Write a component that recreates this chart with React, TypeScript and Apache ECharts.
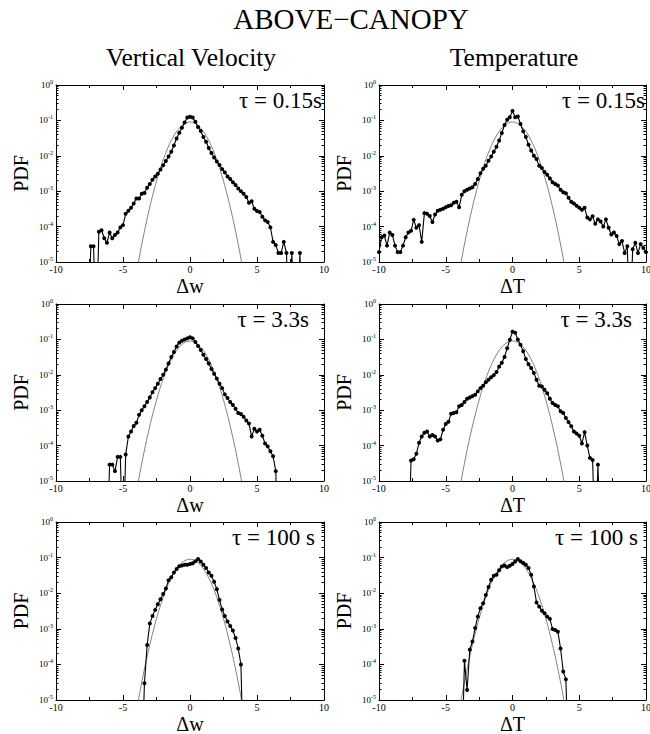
import { useEffect, useRef } from 'react';
import * as echarts from 'echarts';

const FONT = '"Liberation Serif", "DejaVu Serif", serif';

// ---- Gaussian reference curve (gray) ----
const gaussX = [-4, -3.75, -3.5, -3.25, -3, -2.75, -2.5, -2.25, -2, -1.75, -1.5, -1.25, -1, -0.75, -0.5, -0.25, 0,
  0.25, 0.5, 0.75, 1, 1.25, 1.5, 1.75, 2, 2.25, 2.5, 2.75, 3, 3.25, 3.5, 3.75, 4];
const gaussY = [4.8e-6, 1.59e-5, 4.85e-5, 1.37e-4, 3.57e-4, 8.6e-4, 1.93e-3, 4.0e-3, 7.7e-3, 1.37e-2, 2.26e-2, 3.44e-2, 4.87e-2, 6.37e-2, 7.7e-2, 8.65e-2, 9.0e-2,
  8.65e-2, 7.7e-2, 6.37e-2, 4.87e-2, 3.44e-2, 2.26e-2, 1.37e-2, 7.7e-3, 4.0e-3, 1.93e-3, 8.6e-4, 3.57e-4, 1.37e-4, 4.85e-5, 1.59e-5, 4.8e-6];

// ---- Vertical velocity, tau = 0.15 s ----
const dwShortX = [-7.6, -7.4, -7.2, -7.0, -6.8, -6.6, -6.4, -6.2, -6.0, -5.8, -5.6, -5.4, -5.2, -5.0, -4.8, -4.6, -4.4, -4.2, -4.0, -3.8,
  -3.6, -3.4, -3.2, -3.0, -2.8, -2.6, -2.4, -2.2, -2.0, -1.8, -1.6, -1.4, -1.2, -1.0, -0.8, -0.6, -0.4, -0.2, 0,
  0.2, 0.4, 0.6, 0.8, 1.0, 1.2, 1.4, 1.6, 1.8, 2.0, 2.2, 2.4, 2.6, 2.8, 3.0, 3.2, 3.4, 3.6, 3.8, 4.0,
  4.2, 4.4, 4.6, 4.8, 5.0, 5.2, 5.4, 5.6, 5.8, 6.0, 6.2, 6.4, 6.6, 6.8, 7.0, 7.2, 7.4, 7.6, 7.8, 8.0, 8.2, 8.4];
const dwShortY = [1e-7, 2.8e-5, 2.8e-5, 1e-7, 7.2e-5, 7.9e-5, 4.7e-5, 3.5e-5, 6.8e-5, 4.7e-5, 5.8e-5, 6.8e-5, 9.5e-5, 1.1e-4, 2.3e-4, 2.8e-4, 3.4e-4, 4.5e-4, 6.2e-4, 6.2e-4,
  8.5e-4, 8.9e-4, 1.26e-3, 1.6e-3, 2.1e-3, 2.6e-3, 3.1e-3, 4.1e-3, 5.4e-3, 7.1e-3, 9.5e-3, 1.3e-2, 1.95e-2, 3.1e-2, 4.5e-2, 6.2e-2, 8.7e-2, 0.12, 0.126,
  0.12, 0.091, 0.065, 0.05, 0.034, 0.025, 0.0166, 0.012, 0.0089, 0.0069, 0.0055, 0.0042, 0.0034, 0.0026, 0.0022, 0.0018, 0.0015, 0.0012, 0.001, 8.5e-4,
  6.9e-4, 4.7e-4, 5.2e-4, 3.2e-4, 2.75e-4, 2.6e-4, 1.9e-4, 1.5e-4, 1.35e-4, 9.5e-5, 3.7e-5, 3.0e-5, 1.8e-5, 1.8e-5, 3.7e-5, 1.8e-5, 1e-7, 1.8e-5, 1e-7, 1e-7, 1.8e-5, 1e-7];

// ---- Temperature, tau = 0.15 s ----
const dtShortX = [-10, -9.8, -9.6, -9.4, -9.2, -9, -8.8, -8.6, -8.4, -8.2, -8, -7.8, -7.6, -7.4, -7.2, -7, -6.8, -6.6, -6.4, -6.2,
  -6, -5.8, -5.6, -5.4, -5.2, -5, -4.8, -4.6, -4.4, -4.2, -4, -3.8, -3.6, -3.4, -3.2, -3, -2.8, -2.6, -2.4, -2.2,
  -2, -1.8, -1.6, -1.4, -1.2, -1, -0.8, -0.6, -0.4, -0.2, 0,
  0.2, 0.4, 0.6, 0.8, 1, 1.2, 1.4, 1.6, 1.8, 2, 2.2, 2.4, 2.6, 2.8, 3, 3.2, 3.4, 3.6, 3.8, 4,
  4.2, 4.4, 4.6, 4.8, 5, 5.2, 5.4, 5.6, 5.8, 6, 6.2, 6.4, 6.6, 6.8, 7, 7.2, 7.4, 7.6, 7.8, 8,
  8.2, 8.4, 8.6, 8.8, 9, 9.2, 9.4, 9.6, 9.8, 10];
const dtShortY = [1.9e-5, 5.0e-5, 5.6e-5, 2.9e-5, 6.8e-5, 5.8e-5, 2.9e-5, 1.9e-5, 1.9e-5, 2.9e-5,
  5.0e-5, 6.8e-5, 7.6e-5, 1.55e-4, 9.3e-5, 1.1e-4, 3.7e-5, 2.4e-4, 2.3e-4, 2.0e-4,
  1.35e-4, 2.2e-4, 2.8e-4, 3.0e-4, 3.2e-4, 3.5e-4, 3.8e-4, 4.0e-4, 4.7e-4, 5.0e-4,
  3.5e-4, 7.9e-4, 1.0e-3, 1.1e-3, 1.2e-3, 1.3e-3, 1.6e-3, 2.2e-3, 3.2e-3, 4.3e-3,
  5.2e-3, 7.2e-3, 9.5e-3, 1.3e-2, 1.8e-2, 2.7e-2, 4.4e-2, 7.4e-2, 0.105, 0.123, 0.186,
  0.123, 0.129, 0.079, 0.049, 0.034, 0.0204, 0.0141, 0.01, 0.0081, 0.0052,
  0.0045, 0.0035, 0.0029, 0.0023, 0.0018, 0.0016, 0.00145, 0.0011, 9.3e-4, 8.7e-4,
  6.5e-4, 5.0e-4, 4.5e-4, 3.9e-4, 3.4e-4, 3.0e-4, 3.4e-4, 1.8e-4, 1.6e-4, 1.95e-4,
  1.2e-4, 1.6e-4, 1.4e-4, 1.0e-4, 1.6e-4, 9.3e-5, 6.0e-5, 6.8e-5, 5.4e-5, 3.2e-5,
  3.9e-5, 1.8e-5, 2.8e-5, 1e-7, 2.3e-5, 3.5e-5, 1.8e-5, 3.2e-5, 2.5e-5, 1.9e-5];

// ---- Vertical velocity, tau = 3.3 s ----
const dwMidX = [-6.2, -6.0, -5.8, -5.6, -5.4, -5.2, -5.0, -4.8, -4.6, -4.4, -4.2, -4.0,
  -3.8, -3.6, -3.4, -3.2, -3.0, -2.8, -2.6, -2.4, -2.2, -2.0, -1.8, -1.6, -1.4, -1.2, -1.0, -0.8, -0.6, -0.4, -0.2, 0,
  0.2, 0.4, 0.6, 0.8, 1.0, 1.2, 1.4, 1.6, 1.8, 2.0, 2.2, 2.4, 2.6, 2.8, 3.0, 3.2, 3.4, 3.6, 3.8, 4.0,
  4.2, 4.4, 4.6, 4.8, 5.0, 5.2, 5.4, 5.6, 5.8, 6.0, 6.2, 6.4, 6.6];
const dwMidY = [1e-7, 2.9e-5, 2.9e-5, 1.9e-5, 4.8e-5, 4.8e-5, 1e-7, 5.6e-5, 1.8e-4, 2.5e-4, 3.6e-4, 4.4e-4,
  7.4e-4, 1.0e-3, 1.3e-3, 1.7e-3, 2.3e-3, 3.2e-3, 4.2e-3, 5.6e-3, 7.6e-3, 1.0e-2, 1.4e-2, 2.1e-2, 3.2e-2, 4.4e-2, 6.3e-2, 8.1e-2, 9.1e-2, 0.1, 0.107, 0.115,
  0.107, 0.085, 0.065, 0.05, 0.037, 0.028, 0.021, 0.0145, 0.0107, 0.0078, 0.0056, 0.0042, 0.0028, 0.0022, 0.0017, 0.0014, 0.0011, 8.3e-4, 7.8e-4, 6.5e-4,
  5.1e-4, 4.2e-4, 1.8e-4, 3.0e-4, 2.5e-4, 2.8e-4, 1.9e-4, 1.15e-4, 9.5e-5, 6.9e-5, 5.0e-5, 1.9e-5, 1e-7];

// ---- Temperature, tau = 3.3 s ----
const dtMidX = [-7.8, -7.6, -7.4, -7.2, -7.0, -6.8, -6.6, -6.4, -6.2, -6.0,
  -5.8, -5.6, -5.4, -5.2, -5.0, -4.8, -4.6, -4.4, -4.2, -4.0,
  -3.8, -3.6, -3.4, -3.2, -3.0, -2.8, -2.6, -2.4, -2.2, -2.0,
  -1.8, -1.6, -1.4, -1.2, -1.0, -0.8, -0.6, -0.4, -0.2, 0,
  0.2, 0.4, 0.6, 0.8, 1.0, 1.2, 1.4, 1.6, 1.8, 2.0, 2.2, 2.4, 2.6, 2.8, 3.0, 3.2, 3.4, 3.6, 3.8, 4.0,
  4.2, 4.4, 4.6, 4.8, 5.0, 5.2, 5.4, 5.6, 5.8, 6.0, 6.2, 6.4, 6.6];
const dtMidY = [1e-7, 3.8e-5, 4.1e-5, 5.9e-5, 1.2e-4, 1.8e-4, 2.3e-4, 2.5e-4, 1.8e-4, 2.0e-4,
  1.8e-4, 1.4e-4, 1.5e-4, 2.8e-4, 4.1e-4, 4.7e-4, 7.9e-4, 8.3e-4, 8.7e-4, 1.3e-3,
  1.4e-3, 1.7e-3, 2.1e-3, 2.3e-3, 2.5e-3, 2.75e-3, 3.4e-3, 4.2e-3, 4.9e-3, 6.2e-3,
  7.2e-3, 8.5e-3, 9.8e-3, 1.2e-2, 1.7e-2, 2.2e-2, 3.2e-2, 5.6e-2, 9.8e-2, 0.166,
  0.155, 0.1, 0.071, 0.046, 0.028, 0.02, 0.0155, 0.0112, 0.0072, 0.0049, 0.0047, 0.0038, 0.003, 0.0021, 0.0016, 0.0014, 0.0013, 9.3e-4, 8.3e-4, 6.0e-4,
  4.6e-4, 3.5e-4, 2.5e-4, 2.2e-4, 1.9e-4, 1.15e-4, 2.4e-4, 1.0e-4, 4.5e-5, 3.9e-5, 1e-7, 2.9e-5, 1e-7];

// ---- Vertical velocity, tau = 100 s ----
const dwLongX = [-3.6, -3.4, -3.2, -3.0, -2.8, -2.6, -2.4, -2.2, -2.0, -1.8, -1.6, -1.4, -1.2, -1.0, -0.8, -0.6, -0.4, -0.2, 0,
  0.2, 0.4, 0.6, 0.8, 1.0, 1.2, 1.4, 1.6, 1.8, 2.0, 2.2, 2.4, 2.6, 2.8, 3.0, 3.2, 3.4, 3.6, 3.8, 4.0];
const dwLongY = [1e-7, 2.95e-5, 3.5e-4, 1.4e-3, 2.3e-3, 3.4e-3, 4.9e-3, 6.8e-3, 9.5e-3, 1.35e-2, 2.3e-2, 2.8e-2, 3.8e-2, 4.8e-2, 5.75e-2, 6.0e-2, 6.3e-2, 6.3e-2, 6.6e-2,
  6.9e-2, 7.9e-2, 9.1e-2, 7.8e-2, 6.3e-2, 5.1e-2, 3.8e-2, 3.1e-2, 2.1e-2, 1.3e-2, 6.5e-3, 3.5e-3, 2.3e-3, 1.6e-3, 1.2e-3, 8.9e-4, 5.5e-4, 2.8e-4, 1.0e-4, 1e-7];

// ---- Temperature, tau = 100 s ----
const dtLongX = [-3.8, -3.6, -3.4, -3.2, -3.0, -2.8, -2.6, -2.4, -2.2, -2.0, -1.8, -1.6, -1.4, -1.2, -1.0, -0.8, -0.6, -0.4, -0.2, 0,
  0.2, 0.4, 0.6, 0.8, 1.0, 1.2, 1.4, 1.6, 1.8, 2.0, 2.2, 2.4, 2.6, 2.8, 3.0, 3.2, 3.4, 3.6, 3.8, 4.0, 4.2];
const dtLongY = [1e-7, 1.26e-4, 1.9e-5, 2.6e-4, 4.4e-4, 1.05e-3, 2.2e-3, 3.8e-3, 5.2e-3, 8.9e-3, 1.5e-2, 2.4e-2, 3.1e-2, 3.3e-2, 4.4e-2, 5.6e-2, 6.0e-2, 5.4e-2, 5.9e-2, 6.6e-2,
  7.8e-2, 9.1e-2, 7.9e-2, 7.1e-2, 6.3e-2, 5.1e-2, 3.3e-2, 1.55e-2, 5.5e-3, 4.2e-3, 3.2e-3, 2.75e-3, 2.2e-3, 1.9e-3, 9.8e-4, 9.3e-4, 8.3e-4, 2.8e-4, 6.3e-5, 3.8e-5, 1e-7];

const xTickLabels = [-10, -5, 0, 5, 10];
const decades = [1e-5, 1e-4, 1e-3, 1e-2, 1e-1, 1];
const tauLabels = ['τ = 0.15s', 'τ = 0.15s', 'τ = 3.3s', 'τ = 3.3s', 'τ = 100 s', 'τ = 100 s'];
const xNames = ['Δw', 'ΔT', 'Δw', 'ΔT', 'Δw', 'ΔT'];
const mainTitle = 'ABOVE−CANOPY';
const columnTitles = ['Vertical Velocity', 'Temperature'];

const panelX = [dwShortX, dtShortX, dwMidX, dtMidX, dwLongX, dtLongX];
const panelY = [dwShortY, dtShortY, dwMidY, dtMidY, dwLongY, dtLongY];

// layout
const grids = [
  { left: 56, top: 85, width: 268, height: 177 },
  { left: 379, top: 85, width: 267, height: 177 },
  { left: 56, top: 304, width: 268, height: 177 },
  { left: 379, top: 304, width: 267, height: 177 },
  { left: 56, top: 522, width: 268, height: 178 },
  { left: 379, top: 522, width: 267, height: 178 },
];
const tauPos = [
  { x: 322, y: 100 }, { x: 645, y: 100 },
  { x: 309, y: 319 }, { x: 632, y: 319 },
  { x: 315, y: 537 }, { x: 638, y: 537 },
];

export default function App() {
  const ref = useRef<HTMLDivElement>(null);
  useEffect(() => {
    if (!ref.current) return;
    const chart = echarts.init(ref.current, null, { renderer: 'svg' });

    const minorTicks: number[] = [];
    for (let d = -5; d < 0; d++) {
      for (let k = 2; k <= 9; k++) minorTicks.push(k * Math.pow(10, d));
    }
    const black = '#000';
    const xAxes: any[] = [];
    const yAxes: any[] = [];
    const series: any[] = [];

    grids.forEach((_, g) => {
      const xBase = {
        gridIndex: g, type: 'value', min: -10, max: 10, interval: 5,
        axisLine: { show: true, onZero: false, lineStyle: { color: black, width: 1 } },
        axisTick: { show: true, inside: true, length: 5, lineStyle: { color: black } },
        minorTick: { show: true, splitNumber: 2, length: 3, lineStyle: { color: black } },
        splitLine: { show: false },
        minorSplitLine: { show: false },
      };
      xAxes.push({
        ...xBase, position: 'bottom',
        axisLabel: {
          show: true, color: black, fontSize: 10, lineHeight: 10, fontFamily: FONT, margin: 2,
          customValues: xTickLabels,
        },
        name: xNames[g], nameLocation: 'middle', nameGap: 16, nameMoveOverlap: false,
        nameTextStyle: { fontSize: 20, lineHeight: 16, color: black, fontFamily: FONT },
      });
      xAxes.push({ ...xBase, position: 'top', axisLabel: { show: false } });

      const yBase = {
        gridIndex: g, type: 'log', logBase: 10, min: 1e-5, max: 1,
        splitLine: { show: false },
      };
      const majorTick = { show: true, inside: true, length: 5, customValues: decades, lineStyle: { color: black } };
      const minorTick = { show: true, inside: true, length: 2.5, customValues: minorTicks, lineStyle: { color: black } };
      yAxes.push({
        ...yBase, position: 'left',
        axisLine: { show: true, onZero: false, lineStyle: { color: black, width: 1 } },
        axisTick: majorTick,
        axisLabel: {
          show: true, margin: 3, customValues: decades,
          formatter: (v: number) => '{b|10}{s|' + Math.round(Math.log10(v)) + '}',
          rich: {
            b: { fontSize: 9, fontFamily: FONT, color: black, lineHeight: 12 },
            s: { fontSize: 6, fontFamily: FONT, color: black, lineHeight: 6, verticalAlign: 'top' },
          },
        },
        name: 'PDF', nameLocation: 'middle', nameGap: 25, nameMoveOverlap: false,
        nameTextStyle: { fontSize: 20, color: black, fontFamily: FONT },
      });
      yAxes.push({
        ...yBase, position: 'left',
        axisLine: { show: false, onZero: false },
        axisTick: minorTick, axisLabel: { show: false },
      });
      yAxes.push({
        ...yBase, position: 'right',
        axisLine: { show: true, onZero: false, lineStyle: { color: black, width: 1 } },
        axisTick: majorTick, axisLabel: { show: false },
      });
      yAxes.push({
        ...yBase, position: 'right',
        axisLine: { show: false, onZero: false },
        axisTick: minorTick, axisLabel: { show: false },
      });

      series.push({
        type: 'line', xAxisIndex: 2 * g, yAxisIndex: 4 * g,
        data: gaussX.map((x, i) => [x, gaussY[i]]),
        symbol: 'none', showSymbol: false, smooth: 0.4, clip: true, silent: true,
        lineStyle: { color: '#808080', width: 1 }, z: 1,
      });
      const xs = panelX[g];
      const ys = panelY[g];
      series.push({
        type: 'line', xAxisIndex: 2 * g, yAxisIndex: 4 * g,
        data: xs.map((x, i) => [x, ys[i]]),
        symbol: 'circle', symbolSize: 4, clip: true, silent: true,
        itemStyle: { color: black },
        lineStyle: { color: black, width: 1.1 }, z: 2,
      });
    });

    const textEl = (text: string, x: number, y: number, size: number, align: string) => ({
      type: 'text', x, y, silent: true,
      style: {
        text, fill: black, fontSize: size, fontFamily: FONT,
        align, verticalAlign: 'middle', textAlign: align, textVerticalAlign: 'middle',
      },
    });

    const graphics: any[] = [
      textEl(mainTitle, 351, 19, 29, 'center'),
      textEl(columnTitles[0], 191, 57, 25.5, 'center'),
      textEl(columnTitles[1], 514, 57, 25.5, 'center'),
    ];
    tauPos.forEach((p, i) => graphics.push(textEl(tauLabels[i], p.x, p.y, 23, 'right')));

    chart.setOption({
      animation: false,
      backgroundColor: '#fff',
      textStyle: { fontFamily: FONT },
      grid: grids.map((g) => ({ ...g, containLabel: false, outerBoundsMode: 'none' })),
      xAxis: xAxes,
      yAxis: yAxes,
      series,
      graphic: graphics,
    });
    return () => chart.dispose();
  }, []);

  return (
    <div
      ref={ref}
      style={{ position: 'absolute', left: 0, top: 0, width: 650, height: 734, background: '#fff' }}
    />
  );
}
